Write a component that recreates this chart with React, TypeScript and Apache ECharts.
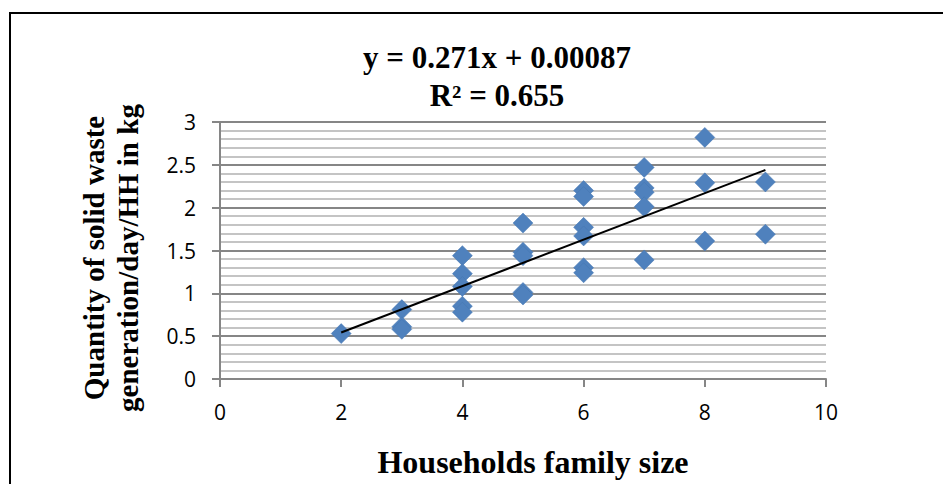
import React, { useEffect, useRef } from "react";
import * as echarts from "echarts";

// Household family size (x) vs solid waste generation per day per household in kg (y)
const familySize = [2, 3, 3, 3, 4, 4, 4, 4, 4, 5, 5, 5, 5, 5, 6, 6, 6, 6, 6, 6, 7, 7, 7, 7, 7, 8, 8, 8, 9, 9];
const wasteKg = [0.53, 0.81, 0.61, 0.58, 1.44, 1.23, 1.08, 0.85, 0.78, 1.82, 1.48, 1.44, 1.01, 0.98, 2.2, 2.13, 1.77, 1.67, 1.3, 1.24, 2.47, 2.23, 2.18, 2.01, 1.39, 2.82, 2.29, 1.61, 2.3, 1.69];

// Linear trendline as reported on the chart
const slope = 0.271;
const intercept = 0.00087;
const rSquared = 0.655;
const trendRange = [2, 9];

const xTicks = { min: 0, max: 10, interval: 2 };
const yTicks = { min: 0, max: 3, interval: 0.5 };

const xTitle = "Households family size";
const yTitle = "Quantity of solid waste\ngeneration/day/HH in kg";

export default function App() {
  const ref = useRef<HTMLDivElement>(null);
  useEffect(() => {
    if (!ref.current) return;
    const chart = echarts.init(ref.current, undefined, { renderer: "svg" });
    const points = familySize.map((x, i) => [x, wasteKg[i]]);
    const trend = trendRange.map((x) => [x, slope * x + intercept]);
    const serif = "'Liberation Serif', 'Times New Roman', serif";
    const sans = "'Open Sans', 'Noto Sans', sans-serif";
    chart.setOption({
      animation: false,
      backgroundColor: "#ffffff",
      grid: { left: 220, right: 117, top: 122, bottom: 105, containLabel: false },
      xAxis: {
        type: "value",
        min: xTicks.min,
        max: xTicks.max,
        interval: xTicks.interval,
        axisLine: { show: true, lineStyle: { color: "#868686", width: 2 } },
        axisTick: { show: true, length: 8, lineStyle: { color: "#868686", width: 2 } },
        axisLabel: { color: "#000", fontFamily: sans, fontSize: 21, margin: 22 },
        splitLine: { show: false },
      },
      yAxis: {
        type: "value",
        min: yTicks.min,
        max: yTicks.max,
        interval: yTicks.interval,
        axisLine: { show: true, lineStyle: { color: "#868686", width: 2 } },
        axisTick: { show: true, length: 8, lineStyle: { color: "#868686", width: 2 } },
        axisLabel: { color: "#000", fontFamily: sans, fontSize: 21, margin: 24 },
        splitLine: { show: true, lineStyle: { color: "#868686", width: 2 } },
        minorTick: { show: false, splitNumber: 5 },
        minorSplitLine: { show: true, lineStyle: { color: "#c4c4c4", width: 2 } },
      },
      series: [
        {
          type: "scatter",
          data: points,
          symbol: "diamond",
          symbolSize: 20,
          itemStyle: { color: "#4f81bd", borderColor: "#4677b0", borderWidth: 0.5, opacity: 1 },
          z: 3,
        },
        {
          type: "line",
          data: trend,
          symbol: "none",
          lineStyle: { color: "#000", width: 2 },
          z: 4,
        },
      ],
      graphic: [
        {
          type: "polyline",
          shape: { points: [[10, 484], [10, 13], [943, 13]] },
          style: { stroke: "#000", lineWidth: 2, fill: "none" },
        },
        {
          type: "text",
          x: 497,
          y: 76,
          style: {
            text: `y = ${slope}x + ${intercept}\nR² = ${rSquared}`,
            font: `bold 31px ${serif}`,
            fill: "#000",
            align: "center",
            verticalAlign: "middle",
            lineHeight: 38,
          },
        },
        {
          type: "text",
          x: 533,
          y: 462,
          style: {
            text: xTitle,
            font: `bold 32px ${serif}`,
            fill: "#000",
            align: "center",
            verticalAlign: "middle",
          },
        },
        {
          type: "text",
          x: 111,
          y: 258,
          rotation: Math.PI / 2,
          style: {
            text: yTitle,
            font: `bold 29px ${serif}`,
            fill: "#000",
            align: "center",
            verticalAlign: "middle",
            lineHeight: 34,
          },
        },
      ],
    });
    return () => chart.dispose();
  }, []);
  return (
    <div
      ref={ref}
      style={{ position: "fixed", left: 0, top: 0, width: 943, height: 484, background: "#fff" }}
    />
  );
}
